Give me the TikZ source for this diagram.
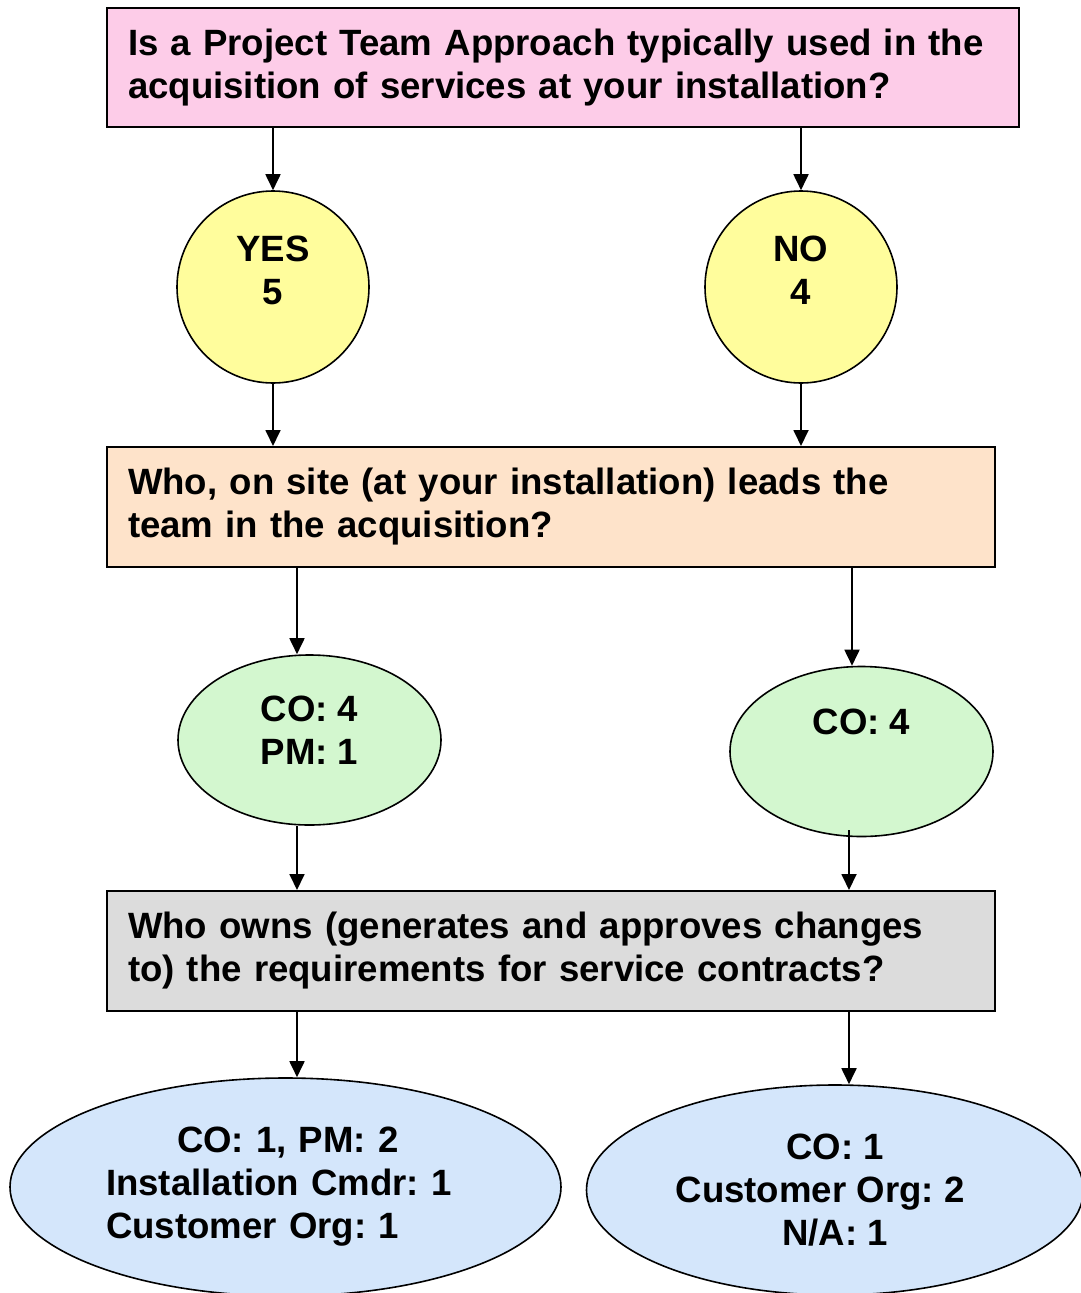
\documentclass[tikz,border=0pt]{standalone}
\usepackage{fontspec}
\setmainfont{Liberation Sans}
\usetikzlibrary{arrows.meta,shapes.geometric}
\frenchspacing

\definecolor{qpink}{HTML}{FDCCE8}
\definecolor{qpeach}{HTML}{FEE3CA}
\definecolor{qgray}{HTML}{DCDCDC}
\definecolor{ayellow}{HTML}{FFFD9C}
\definecolor{agreen}{HTML}{D3F7CF}
\definecolor{ablue}{HTML}{D4E6FB}

\begin{document}
\begin{tikzpicture}[x=1pt,y=-1pt,
  every node/.style={font=\fontsize{36.6}{43}\selectfont\bfseries\frenchspacing, inner sep=0pt},
  question/.style={draw, line width=2pt, rectangle, anchor=north west,
    inner xsep=21pt, inner ysep=0pt, align=left},
  yesno/.style={draw, line width=1.6pt, circle, fill=ayellow,
    minimum size=192pt, align=center, text depth=33.5pt},
  leader/.style={draw, line width=1.6pt, ellipse, fill=agreen,
    minimum width=263pt, minimum height=170pt, align=center},
  owner/.style={draw, line width=1.6pt, ellipse, fill=ablue},
  arr/.style={line width=1.8pt, -{Triangle[length=16pt,width=15pt]}}
]
\useasboundingbox (0,0) rectangle (1081,1293);

% question boxes
\node[question, fill=qpink, text width=870pt, minimum height=119pt] (q1) at (106,7)
  {Is a Project Team Approach typically used in the\\acquisition of services at your installation?};
\node[question, fill=qpeach, text width=846pt, minimum height=120pt] (q2) at (106,446)
  {Who, on site (at your installation) leads the\\team in the acquisition?};
\node[question, fill=qgray, text width=846pt, minimum height=120pt] (q3) at (106,890)
  {Who owns (generates and approves changes\\to) the requirements for service contracts?};

% yes / no answers
\node[yesno] (yes) at (273,287) {YES\\5};
\node[yesno] (no) at (801,287) {NO\\4};

% who leads the team
\node[leader, text depth=19.5pt] (leadL) at (309.5,740) {CO: 4\\PM: 1};
\node[leader, text depth=59pt] (leadR) at (861.5,751.5) {CO: 4};

% who owns the requirements
\node[owner, minimum width=551pt, minimum height=218pt, text width=359pt, align=left]
  (ownL) at (285.5,1187)
  {\hspace*{71pt}CO: 1, PM: 2\\Installation Cmdr: 1\\Customer Org: 1};
\node[owner, minimum width=497pt, minimum height=210pt, align=center]
  (ownR) at (835,1190)
  {CO: 1\\Customer Org: 2\rule{30pt}{0pt}\\N/A: 1};

% connector columns
\coordinate (colL) at (297,0);
\coordinate (colR) at (849,0);
\coordinate (colRt) at (852,0);

% connectors
\draw[arr] (q1.south -| yes) -- (yes.north);
\draw[arr] (q1.south -| no) -- (no.north);
\draw[arr] (yes.south) -- (yes.south |- q2.north);
\draw[arr] (no.south) -- (no.south |- q2.north);
\draw[arr] (q2.south -| colL) -- (leadL.north -| colL);
\draw[arr] (q2.south -| colRt) -- (leadR.north -| colRt);
\draw[arr] (leadL.south -| colL) -- (q3.north -| colL);
\draw[arr] ([yshift=7pt]leadR.south -| colR) -- (q3.north -| colR);
\draw[arr] (q3.south -| colL) -- (ownL.north -| colL);
\draw[arr] (q3.south -| colR) -- (ownR.north -| colR);
\end{tikzpicture}
\end{document}
